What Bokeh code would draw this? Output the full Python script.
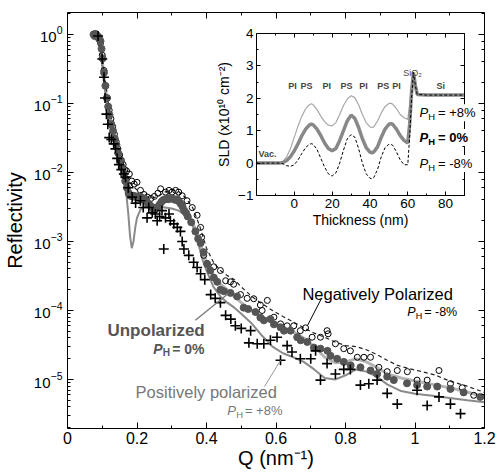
from bokeh.plotting import figure
from bokeh.models import (LinearAxis, LogAxis, FixedTicker, CustomJSTickFormatter, Label)
from bokeh.layouts import column
from bokeh.embed import file_html
from bokeh.resources import INLINE

FONT = "Liberation Sans"

# ---------------- main chart data ----------------
x_major = [0, 0.2, 0.4, 0.6, 0.8, 1.0, 1.2]
x_minor = [0.1, 0.3, 0.5, 0.7, 0.9, 1.1]

# negatively polarized data (open circles), P_H = -8%
neg_q = [0.080, 0.085, 0.090, 0.095, 0.100, 0.105, 0.110, 0.115, 0.120, 0.125, 0.130, 0.135,
         0.140, 0.145, 0.150, 0.155, 0.160, 0.165, 0.170, 0.178, 0.185, 0.192, 0.200, 0.210,
         0.220, 0.230, 0.240, 0.250, 0.260, 0.268, 0.282, 0.292, 0.301, 0.311, 0.320, 0.330,
         0.344, 0.359, 0.373, 0.383, 0.386, 0.392, 0.402, 0.421, 0.440, 0.455, 0.469, 0.478,
         0.498, 0.517, 0.536, 0.555, 0.560, 0.575, 0.594, 0.613, 0.632, 0.651, 0.670, 0.685,
         0.704, 0.728, 0.747, 0.750, 0.771, 0.795, 0.814, 0.834, 0.853, 0.872, 0.896, 0.920,
         0.949, 0.978, 1.006, 1.035, 1.069, 1.102, 1.136, 1.169]
neg_r = [1.0, 0.98, 0.93, 0.75, 0.5, 0.3, 0.18, 0.12, 0.08, 0.06, 0.046, 0.036,
         0.028, 0.022, 0.018, 0.015, 0.013, 0.011, 0.0105, 0.0095, 0.0075, 0.0068, 0.0072, 0.0055,
         0.0048, 0.0044, 0.0042, 0.0045, 0.005, 0.0058, 0.0052, 0.0055, 0.0052, 0.0055, 0.0052, 0.0046,
         0.0039, 0.0031, 0.0024, 0.0016, 0.00115, 0.00063, 0.00048, 0.00043, 0.00038, 0.00027, 0.00026, 0.00024,
         0.00017, 0.00015, 0.000148, 0.00012, 0.0001, 0.00014, 8e-5, 6.4e-5, 6e-5, 6e-5, 5.1e-5, 5.6e-5,
         4.1e-5, 4.1e-5, 5.1e-5, 4.6e-5, 3.3e-5, 2.8e-5, 2.6e-5, 2.1e-5, 2.1e-5, 2.1e-5, 1.5e-5, 1.3e-5,
         1.35e-5, 1.3e-5, 9.8e-6, 9.8e-6, 1.35e-5, 8.7e-6, 7.6e-6, 5.9e-6]

# unpolarized data (filled circles), P_H = 0%
unp_q = [0.075, 0.078, 0.080, 0.083, 0.086, 0.089, 0.092, 0.095, 0.098, 0.101, 0.105, 0.109,
         0.113, 0.117, 0.121, 0.126, 0.131, 0.136, 0.141, 0.146, 0.151, 0.156, 0.161, 0.166,
         0.171, 0.176, 0.181, 0.186, 0.191, 0.196, 0.201, 0.206, 0.211, 0.216, 0.221, 0.226,
         0.231, 0.236, 0.241, 0.246, 0.251, 0.256, 0.261, 0.266, 0.271, 0.276, 0.281, 0.286,
         0.291, 0.296, 0.301, 0.306, 0.311, 0.316, 0.321, 0.326, 0.331, 0.336, 0.341, 0.346,
         0.356, 0.368, 0.376, 0.383, 0.392, 0.402, 0.411, 0.421, 0.431, 0.440, 0.450, 0.469,
         0.488, 0.507, 0.520, 0.541, 0.555, 0.565, 0.584, 0.594, 0.613, 0.623, 0.642, 0.661,
         0.671, 0.690, 0.709, 0.728, 0.748, 0.757, 0.776, 0.795, 0.815, 0.843, 0.872, 0.891,
         0.920, 0.939, 0.977, 1.006, 1.035, 1.064, 1.102, 1.140, 1.188]
unp_r = [1.0, 0.95, 1.02, 0.98, 0.95, 0.9, 0.85, 0.8, 0.62, 0.45, 0.28, 0.18,
         0.12, 0.09, 0.068, 0.05, 0.04, 0.031, 0.025, 0.019, 0.015, 0.012, 0.0095, 0.0075,
         0.006, 0.005, 0.0046, 0.0045, 0.0046, 0.0044, 0.0045, 0.0043, 0.0044, 0.0041, 0.0042, 0.0038,
         0.0036, 0.0034, 0.0032, 0.003, 0.0029, 0.0031, 0.0032, 0.0035, 0.0038, 0.004, 0.0041, 0.0042,
         0.0041, 0.0043, 0.0042, 0.0041, 0.004, 0.0041, 0.0038, 0.0035, 0.0032, 0.0028, 0.0026, 0.0023,
         0.0019, 0.0014, 0.0011, 0.00095, 0.0007, 0.00047, 0.00038, 0.0003, 0.00026, 0.0002, 0.00019, 0.00018,
         0.00016, 0.00011, 0.000105, 9.5e-5, 7.9e-5, 7.2e-5, 7.5e-5, 6.3e-5, 5.7e-5, 5.1e-5, 5.1e-5, 4.1e-5,
         3.7e-5, 3.5e-5, 2.9e-5, 2.8e-5, 2.6e-5, 2.2e-5, 2.0e-5, 1.8e-5, 1.6e-5, 1.5e-5, 1.35e-5, 1.2e-5,
         1.1e-5, 9.8e-6, 8.8e-6, 8.3e-6, 7.9e-6, 7.9e-6, 7.3e-6, 6.5e-6, 5.6e-6]

# positively polarized data (plus signs), P_H = +8%
pos_q = [0.088, 0.100, 0.105, 0.108, 0.112, 0.116, 0.120, 0.126, 0.133, 0.138, 0.143, 0.148,
         0.155, 0.162, 0.167, 0.175, 0.186, 0.196, 0.210, 0.218, 0.229, 0.234, 0.244, 0.253,
         0.258, 0.265, 0.272, 0.277, 0.282, 0.292, 0.296, 0.306, 0.316, 0.325, 0.330, 0.335,
         0.349, 0.363, 0.373, 0.383, 0.395, 0.412, 0.425, 0.440, 0.455, 0.470, 0.483, 0.500,
         0.522, 0.527, 0.546, 0.565, 0.584, 0.603, 0.613, 0.632, 0.646, 0.670, 0.700, 0.714,
         0.728, 0.747, 0.771, 0.795, 0.814, 0.843, 0.867, 0.891, 0.920, 0.949, 1.006, 1.035,
         1.069, 1.102, 1.131]
pos_r = [0.95, 0.44, 0.24, 0.12, 0.07, 0.05, 0.032, 0.03, 0.026, 0.022, 0.016, 0.013,
         0.011, 0.0095, 0.0085, 0.006, 0.0044, 0.0036, 0.0039, 0.0031, 0.0022, 0.0031, 0.0026, 0.0025,
         0.002, 0.0023, 0.0028, 0.00078, 0.0022, 0.0025, 0.002, 0.0018, 0.0016, 0.0014, 0.001, 0.00078,
         0.00063, 0.0005, 0.00042, 0.00034, 0.00028, 0.00017, 0.00015, 0.00013, 8.5e-5, 7.5e-5, 6e-5, 5.5e-5,
         3.4e-5, 5.1e-5, 3.3e-5, 3.3e-5, 3.7e-5, 4.1e-5, 1.9e-5, 3.1e-5, 2.5e-5, 2.0e-5, 2.0e-5, 2.6e-5,
         9.8e-6, 1.7e-5, 1.2e-5, 1.4e-5, 1.4e-5, 8.3e-6, 8.7e-6, 9.8e-6, 6.3e-6, 4.4e-6, 7e-6, 4.2e-6,
         5.6e-6, 4.4e-6, 3.2e-6]

# model fits
fit_unp_q = [0.075, 0.08, 0.085, 0.09, 0.095, 0.10, 0.105, 0.11, 0.115, 0.12, 0.13, 0.14, 0.15, 0.16,
             0.17, 0.18, 0.19, 0.20, 0.21, 0.22, 0.23, 0.24, 0.25, 0.26, 0.27, 0.28, 0.29, 0.30, 0.31,
             0.32, 0.33, 0.34, 0.35, 0.36, 0.37, 0.38, 0.39, 0.40, 0.42, 0.44, 0.46, 0.48, 0.50, 0.53,
             0.56, 0.59, 0.62, 0.65, 0.68, 0.71, 0.74, 0.77, 0.80, 0.83, 0.86, 0.89, 0.92, 0.96, 1.00,
             1.05, 1.10, 1.15, 1.20]
fit_unp_r = [1.0, 1.0, 0.98, 0.9, 0.7, 0.42, 0.24, 0.15, 0.1, 0.075, 0.045, 0.028, 0.018, 0.012,
             0.0078, 0.0055, 0.0045, 0.0042, 0.004, 0.0038, 0.0034, 0.0031, 0.003, 0.0031, 0.0034, 0.0038, 0.0041, 0.0042, 0.0041,
             0.0038, 0.0034, 0.0029, 0.0024, 0.0019, 0.0014, 0.001, 0.0007, 0.0005, 0.00032, 0.00024, 0.0002, 0.00016, 0.00013, 0.0001,
             8e-5, 6.8e-5, 5.8e-5, 4.9e-5, 4e-5, 3e-5, 2.1e-5, 1.75e-5, 1.8e-5, 2e-5, 1.8e-5, 1.5e-5, 1.2e-5, 1.05e-5, 9.5e-6,
             8.5e-6, 7.6e-6, 6.6e-6, 5.6e-6]

fit_pos_q = [0.075, 0.08, 0.085, 0.09, 0.095, 0.10, 0.105, 0.11, 0.115, 0.12, 0.13, 0.14, 0.15, 0.16,
             0.17, 0.175, 0.18, 0.185, 0.19, 0.195, 0.20, 0.21, 0.22, 0.23, 0.24, 0.26, 0.28, 0.30, 0.32,
             0.34, 0.35, 0.36, 0.37, 0.38, 0.39, 0.40, 0.42, 0.44, 0.46, 0.48, 0.50, 0.53, 0.56, 0.59,
             0.62, 0.65, 0.68, 0.71, 0.74, 0.77, 0.80, 0.83, 0.86, 0.89, 0.92, 0.96, 1.00, 1.05, 1.10,
             1.15, 1.20]
fit_pos_r = [1.0, 1.0, 0.97, 0.85, 0.6, 0.35, 0.2, 0.13, 0.09, 0.065, 0.038, 0.023, 0.014, 0.0085,
             0.0045, 0.0025, 0.0012, 0.0008, 0.001, 0.0016, 0.0022, 0.0029, 0.0032, 0.0033, 0.0033, 0.0032, 0.0031, 0.003, 0.0028,
             0.0024, 0.0021, 0.0017, 0.0012, 0.0008, 0.00052, 0.00038, 0.00022, 0.00016, 0.00013, 0.00011, 9e-5, 6.5e-5, 4.3e-5, 3e-5,
             2.4e-5, 2.1e-5, 1.8e-5, 1.4e-5, 1.05e-5, 1e-5, 1.15e-5, 1.4e-5, 1.3e-5, 1.1e-5, 8.5e-6, 6.8e-6, 6.2e-6, 5.8e-6, 5.4e-6,
             5e-6, 4.7e-6]

fit_neg_q = [0.08, 0.09, 0.10, 0.11, 0.12, 0.13, 0.14, 0.15, 0.16, 0.17, 0.18, 0.19, 0.20, 0.22,
             0.24, 0.26, 0.28, 0.30, 0.32, 0.34, 0.36, 0.38, 0.40, 0.42, 0.44, 0.46, 0.48, 0.50, 0.53,
             0.56, 0.59, 0.62, 0.65, 0.68, 0.71, 0.74, 0.77, 0.80, 0.83, 0.86, 0.89, 0.92, 0.95, 0.98,
             1.02, 1.06, 1.10, 1.15, 1.20]
fit_neg_r = [1.0, 0.95, 0.5, 0.19, 0.085, 0.05, 0.032, 0.021, 0.014, 0.0095, 0.0072, 0.0062, 0.0056, 0.0046,
             0.0042, 0.0045, 0.0052, 0.0056, 0.0053, 0.0043, 0.0031, 0.0017, 0.0008, 0.0005, 0.00038, 0.00032, 0.00028, 0.00022, 0.00016,
             0.000125, 0.0001, 8.2e-5, 6.8e-5, 5.6e-5, 4.7e-5, 4.1e-5, 3.5e-5, 3.1e-5, 3e-5, 2.7e-5, 2.3e-5, 1.9e-5, 1.6e-5, 1.45e-5,
             1.3e-5, 1.15e-5, 9.5e-6, 8e-6, 6.5e-6]

# annotations of the main chart (data coordinates)
neg_text = ("Negatively Polarized", 0.676, 1.76e-4)
neg_ph = ("= -8%", 0.978, 9.4e-5)
neg_ptr_q, neg_ptr_r = [0.731, 0.691], [1.5e-4, 6.1e-5]
unp_text = ("Unpolarized", 0.115, 5.1e-5)
unp_ph = ("=  0%", 0.247, 2.8e-5)
unp_ptr_q, unp_ptr_r = [0.368, 0.463], [7.2e-5, 1.76e-4]
pos_text = ("Positively polarized", 0.196, 6.5e-6)
pos_ph = ("= +8%", 0.46, 3.55e-6)
pos_ptr_q, pos_ptr_r = [0.567, 0.613], [7.9e-6, 1.9e-5]

# ---------------- inset data ----------------
in_x_major = [0, 20, 40, 60, 80]
in_x_minor = [-10, 10, 30, 50, 70, 90]
in_y_major = [-1, 0, 1, 2, 3, 4]
in_y_minor = [-0.5, 0.5, 1.5, 2.5, 3.5]

thick = [-20, -8, -6, -4, -2, 0, 2, 4, 6, 8, 9, 10, 12, 14, 16, 18, 20, 22, 24, 26, 28, 30, 32, 34,
         36, 38, 40, 41, 42, 44, 46, 48, 50, 51, 52, 54, 56, 58, 60, 61, 62, 63, 64, 65, 70, 90]
sld_p8 = [0, 0, 0.05, 0.2, 0.45, 0.8, 1.15, 1.45, 1.68, 1.8, 1.83, 1.8, 1.65, 1.45, 1.28, 1.17, 1.15, 1.25,
          1.5, 1.78, 1.98, 2.08, 2.02, 1.8, 1.5, 1.25, 1.12, 1.1, 1.12, 1.3, 1.55, 1.75, 1.84, 1.85, 1.82,
          1.68, 1.5, 1.4, 1.35, 1.8, 2.4, 2.8, 2.4, 2.12, 2.1, 2.1]
sld_0 = [0, 0, 0.02, 0.08, 0.2, 0.38, 0.6, 0.85, 1.05, 1.18, 1.2, 1.18, 1.05, 0.85, 0.62, 0.45, 0.38, 0.45,
         0.7, 1.0, 1.3, 1.48, 1.38, 1.1, 0.75, 0.48, 0.34, 0.32, 0.34, 0.5, 0.8, 1.05, 1.2, 1.22, 1.2,
         1.05, 0.85, 0.7, 0.62, 1.2, 2.2, 2.8, 2.4, 2.12, 2.1, 2.1]
sld_m8 = [0, 0, -0.02, -0.08, -0.1, -0.05, 0.1, 0.3, 0.48, 0.58, 0.6, 0.58, 0.42, 0.15, -0.12, -0.33, -0.4, -0.3,
          0.0, 0.4, 0.75, 0.88, 0.8, 0.45, 0.0, -0.33, -0.47, -0.48, -0.45, -0.2, 0.2, 0.48, 0.58, 0.58, 0.55,
          0.35, 0.1, -0.05, -0.05, 0.8, 2.0, 2.8, 2.4, 2.12, 2.1, 2.1]

layer_names = ["PI", "PS", "PI", "PS", "PI", "PS", "PI", "Si"]
layer_x = [-0.9, 6.5, 17.2, 27.6, 36.6, 47.0, 54.0, 77.4]
layer_y = 2.39
inset_legend = [("= +8%", 66.2, 1.6, "normal"), ("=  0%", 66.2, 0.85, "bold"), ("= -8%", 66.2, 0.06, "normal")]


def style_axis(ax, size, tin=6, tmin=3, labels=True):
    ax.axis_line_color = "black"
    ax.axis_line_width = 1
    ax.major_tick_in = tin
    ax.major_tick_out = 0
    ax.minor_tick_in = tmin
    ax.minor_tick_out = 0
    ax.major_tick_line_color = "black"
    ax.minor_tick_line_color = "black"
    ax.major_label_text_font = FONT
    ax.major_label_text_font_size = size
    ax.major_label_text_color = "black"
    ax.axis_label_text_font = FONT
    ax.axis_label_text_font_style = "normal"
    ax.axis_label_text_color = "black"
    if not labels:
        ax.formatter = CustomJSTickFormatter(code="return ''")
        ax.major_label_standoff = 0


def ph_label(fig, x, y, tail, size, color, weight="normal", bg=None):
    pstyle = "bold italic" if weight == "bold" else "italic"
    fig.add_layout(Label(x=x, y=y, text="P", text_font=FONT, text_font_style=pstyle,
                         text_font_size=f"{size}px", text_color=color, text_baseline="middle"))
    fig.add_layout(Label(x=x, y=y, x_offset=size * 0.68, y_offset=-size * 0.3, text="H",
                         text_font=FONT, text_font_style=weight, text_font_size=f"{size * 0.72:.1f}px",
                         text_color=color, text_baseline="middle"))
    kw = {}
    if bg:
        kw = dict(background_fill_color=bg, padding=1)
    fig.add_layout(Label(x=x, y=y, x_offset=size * 1.35, text=tail, text_font=FONT,
                         text_font_style=weight, text_font_size=f"{size}px", text_color=color,
                         text_baseline="middle", **kw))


# ---------------- main figure ----------------
p = figure(width=496, height=472, y_axis_type="log", x_range=(0, 1.2), y_range=(1.95e-6, 2.08),
           output_backend="svg", toolbar_location=None,
           min_border_left=67, min_border_right=12, min_border_top=12, min_border_bottom=44)
p.outline_line_color = None
p.grid.visible = False
p.background_fill_color = "white"

p.xaxis.ticker = FixedTicker(ticks=x_major, minor_ticks=x_minor)
p.xaxis.formatter = CustomJSTickFormatter(code="return String(Number(tick.toFixed(2)))")
p.xaxis.axis_label = "Q (nm⁻¹)"
p.yaxis.axis_label = "Reflectivity"
style_axis(p.xaxis[0], "16px")
style_axis(p.yaxis[0], "15px")
p.xaxis.axis_label_text_font_size = "20px"
p.yaxis.axis_label_text_font_size = "20px"
p.xaxis.major_label_standoff = 3
p.yaxis.major_label_standoff = 5
p.xaxis.axis_label_standoff = 0
p.yaxis.axis_label_standoff = 5

top = LinearAxis(ticker=FixedTicker(ticks=x_major, minor_ticks=x_minor))
style_axis(top, "15px", labels=False)
p.add_layout(top, "above")
right = LogAxis()
style_axis(right, "15px", labels=False)
p.add_layout(right, "right")

# fits
p.line(fit_unp_q, fit_unp_r, line_color="#b5b5b5", line_width=3)
p.line(fit_pos_q, fit_pos_r, line_color="#8a8a8a", line_width=2)
p.line(fit_neg_q, fit_neg_r, line_color="#222222", line_width=1.2, line_dash="4 3")

# data
p.scatter(neg_q, neg_r, marker="circle", size=6, line_color="black", fill_color=None, line_width=1)
p.scatter(unp_q, unp_r, marker="circle", size=7, line_color="#555555", fill_color="#555555")
p.scatter(pos_q, pos_r, marker="cross", size=10, line_color="black", line_width=1.6)

# annotations
p.line(neg_ptr_q, neg_ptr_r, line_color="black", line_width=1)
p.line(unp_ptr_q, unp_ptr_r, line_color="#777777", line_width=1.3)
p.line(pos_ptr_q, pos_ptr_r, line_color="#999999", line_width=1)
p.add_layout(Label(x=neg_text[1], y=neg_text[2], text=neg_text[0], text_font=FONT,
                   text_font_size="16.5px", text_color="black", text_baseline="middle"))
ph_label(p, neg_ph[1], neg_ph[2], neg_ph[0], 12.5, "black")
p.add_layout(Label(x=unp_text[1], y=unp_text[2], text=unp_text[0], text_font=FONT,
                   text_font_size="17px", text_font_style="bold", text_color="#555555",
                   text_baseline="middle"))
ph_label(p, unp_ph[1], unp_ph[2], unp_ph[0], 14, "#555555", weight="bold")
p.add_layout(Label(x=pos_text[1], y=pos_text[2], text=pos_text[0], text_font=FONT,
                   text_font_size="16.5px", text_color="#777777", text_baseline="middle"))
ph_label(p, pos_ph[1], pos_ph[2], pos_ph[0], 13, "#777777")

# ---------------- inset figure ----------------
# plots in a column share their left/right borders, so the inset uses the same borders as the main plot
ins = figure(width=287, height=208, x_range=(-20, 90), y_range=(-1, 4),
             output_backend="svg", toolbar_location=None,
             min_border_left=67, min_border_right=12, min_border_top=11, min_border_bottom=32)
ins.outline_line_color = None
ins.grid.visible = False
ins.background_fill_alpha = 0
ins.border_fill_alpha = 0
ins.xaxis.ticker = FixedTicker(ticks=in_x_major, minor_ticks=in_x_minor)
ins.yaxis.ticker = FixedTicker(ticks=in_y_major, minor_ticks=in_y_minor)
ins.xaxis.axis_label = "Thickness (nm)"
ins.yaxis.axis_label = "SLD (x10¹⁰ cm⁻²)"
style_axis(ins.xaxis[0], "13.5px", tin=4, tmin=2)
style_axis(ins.yaxis[0], "13.5px", tin=4, tmin=2)
ins.xaxis.axis_label_text_font_size = "14px"
ins.yaxis.axis_label_text_font_size = "14px"
ins.xaxis.major_label_standoff = 3
ins.yaxis.major_label_standoff = 3
ins.xaxis.axis_label_standoff = 1
ins.yaxis.axis_label_standoff = 3
itop = LinearAxis(ticker=FixedTicker(ticks=in_x_major, minor_ticks=in_x_minor))
style_axis(itop, "13px", tin=4, tmin=2, labels=False)
ins.add_layout(itop, "above")
iright = LinearAxis(ticker=FixedTicker(ticks=in_y_major, minor_ticks=in_y_minor))
style_axis(iright, "13px", tin=4, tmin=2, labels=False)
ins.add_layout(iright, "right")

ins.line(thick, sld_p8, line_color="#a8a8a8", line_width=1.2)
ins.line(thick, sld_0, line_color="#888888", line_width=3.5)
ins.line(thick, sld_m8, line_color="black", line_width=1, line_dash="3 2")

for name, lx in zip(layer_names, layer_x):
    ins.add_layout(Label(x=lx, y=layer_y, text=name, text_font=FONT, text_font_style="bold",
                         text_font_size="9px", text_align="center", text_baseline="middle"))
ins.add_layout(Label(x=62.5, y=2.79, text="SiO₂", text_font=FONT, text_font_size="9px",
                     text_align="center", text_baseline="middle"))
ins.add_layout(Label(x=-19, y=0.28, text="Vac.", text_font=FONT, text_font_style="bold",
                     text_font_size="9px", text_align="left", text_baseline="middle"))
ins.margin = (-450, 0, 0, 189)

# overlay for the inset legend: same data scale as the inset, wider frame so the texts are not cut
leg = figure(width=307, height=165, x_range=(-20, 100.58), y_range=(-1, 4),
             output_backend="svg", toolbar_location=None,
             x_axis_location=None, y_axis_location=None,
             min_border_left=67, min_border_right=12, min_border_top=0, min_border_bottom=0)
leg.outline_line_color = None
leg.grid.visible = False
leg.background_fill_alpha = 0
leg.border_fill_alpha = 0
for tail, lx, ly, w in inset_legend:
    ph_label(leg, lx, ly, tail, 13, "black", weight=w, bg="white")
leg.margin = (-197, 0, 0, 189)

layout = column(p, ins, leg)
open("out.html", "w").write(file_html(layout, INLINE))
